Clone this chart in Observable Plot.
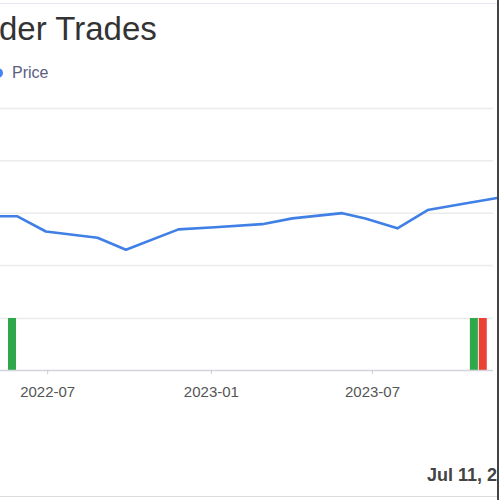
<!DOCTYPE html>
<html>
<head>
<meta charset="utf-8">
<script src="https://cdn.jsdelivr.net/npm/d3@7"></script>
<script src="https://cdn.jsdelivr.net/npm/@observablehq/plot@0.6"></script>
<style>
  html, body { margin:0; padding:0; background:#fff; }
  body { width:500px; height:500px; position:relative; overflow:hidden; font-family:"Liberation Sans", Arial, sans-serif; }
  .abs { position:absolute; }
  #title { left:-1px; top:10px; font-size:33px; color:#333; white-space:nowrap; }
  #legend { left:0; top:64px; font-size:16px; color:#5a5e7e; white-space:nowrap; }
  #legend .dot { position:absolute; left:-7px; top:4px; width:10px; height:10px; border-radius:50%; background:#4285f4; }
  #legend span.t { position:absolute; left:12px; top:0; }
  #date { left:427px; top:465px; font-size:18px; font-weight:bold; color:#444; white-space:nowrap; }
  #topline { left:0; top:3px; width:497px; height:1px; background:#e6e6ee; }
  #botline { left:0; top:496px; width:497px; height:1px; background:#dcdcdc; }
  #border { left:497px; top:0; width:2px; height:500px; background:#444; }
</style>
</head>
<body>
<script>
// ---- data ----
const priceDates = ["2022-05-09","2022-05-28","2022-06-29","2022-08-26","2022-09-27","2022-11-25","2023-01-05","2023-02-27","2023-04-02","2023-05-28","2023-06-23","2023-07-29","2023-09-01","2023-10-08","2023-11-18"];
const priceValues = [29.4, 29.4, 26.5, 25.3, 23.0, 26.9, 27.3, 27.9, 29.0, 30.0, 29.0, 27.1, 30.6, 31.7, 32.9];
const yGridValues = [20, 30, 40, 50];
const tradeDates = ["2022-05-18", "2023-10-19", "2023-10-29"];
const tradeTypes = ["Buy", "Buy", "Sell"];
const tradeCounts = [1, 1, 1];
const tickDates = ["2022-07-01", "2023-01-01", "2023-07-01"];
const xDomain = ["2022-05-09", "2023-11-14"];
const titleText = "der Trades";
const legendText = "Price";
const dateText = "Jul 11, 2";

const parse = d3.utcParse("%Y-%m-%d");
const price = priceDates.map((d, i) => ({date: parse(d), price: priceValues[i]}));
const trades = tradeDates.map((d, i) => ({start: parse(d), end: d3.utcDay.offset(parse(d), 9), type: tradeTypes[i], count: tradeCounts[i]}));
const dom = xDomain.map(parse);

function add(cls, id, text) {
  const d = document.createElement("div");
  d.className = cls; if (id) d.id = id; if (text != null) d.textContent = text;
  document.body.appendChild(d); return d;
}

add("abs", "topline");
add("abs", "title", titleText);
const lg = add("abs", "legend");
lg.innerHTML = '<div class="dot"></div><span class="t"></span>';
lg.querySelector(".t").textContent = legendText;

const p1 = Plot.plot({
  width: 500, height: 175,
  marginLeft: 0, marginRight: 7, marginTop: 8, marginBottom: 10,
  x: {type: "utc", domain: dom, axis: null},
  y: {domain: [20, 50], axis: null},
  marks: [
    Plot.gridY(yGridValues, {stroke: "#ececec", strokeOpacity: 1, strokeWidth: 1.5}),
    Plot.line(price, {x: "date", y: "price", stroke: "#4080e6", strokeWidth: 2.6, strokeLinejoin: "round"})
  ]
});
const c1 = add("abs"); c1.style.left = "0px"; c1.style.top = "100px"; c1.appendChild(p1);

const p2 = Plot.plot({
  width: 500, height: 100,
  marginLeft: 0, marginRight: 7, marginTop: 8, marginBottom: 40,
  style: {fontFamily: "Liberation Sans, Arial, sans-serif", fontSize: "15px", color: "#555"},
  x: {type: "utc", domain: dom},
  y: {domain: [0, 1], axis: null},
  color: {domain: ["Buy", "Sell"], range: ["#2ea84a", "#ea4335"]},
  marks: [
    Plot.gridY([1], {stroke: "#ececec", strokeOpacity: 1, strokeWidth: 1.5}),
    Plot.rectY(trades, {x1: "start", x2: "end", y: "count", fill: "type"}),
    Plot.ruleY([0], {stroke: "#d4d4dc", strokeWidth: 1.5}),
    Plot.axisX(tickDates.map(parse), {tickFormat: d3.utcFormat("%Y-%m"), tickSize: 4, tickPadding: 12, stroke: "#ccc", fill: "#555", fontSize: 15})
  ]
});
const c2 = add("abs"); c2.style.left = "0px"; c2.style.top = "310px"; c2.appendChild(p2);

add("abs", "date", dateText);
add("abs", "botline");
add("abs", "border");
</script>
</body>
</html>
